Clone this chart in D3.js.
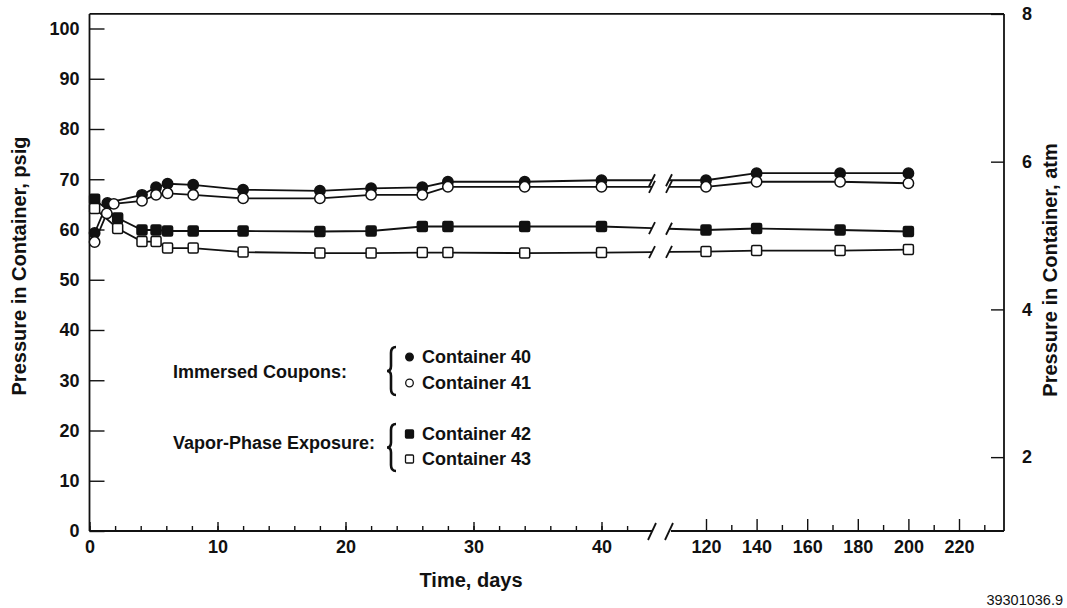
<!DOCTYPE html>
<html><head><meta charset="utf-8">
<script src="https://cdn.jsdelivr.net/npm/d3@7"></script>
<style>
html,body{margin:0;padding:0;background:#fff;}
svg{display:block;}
text{font-family:"Liberation Sans",Arial,Helvetica,sans-serif;fill:#111;}
</style></head>
<body>
<svg id="chart" width="1067" height="608"></svg>
<script>
// ---- data ----
const days40 = [0.4,1.4,4.1,5.2,6.1,8.1,12,18,22,26,28,34,40,120,140,173,200];
const c40    = [59.3,65.3,66.9,68.4,69.1,68.9,67.9,67.7,68.2,68.4,69.5,69.5,69.8,69.8,71.2,71.2,71.2];
const days41 = [0.4,1.35,1.9,4.1,5.2,6.1,8.1,12,18,22,26,28,34,40,120,140,173,200];
const c41    = [57.5,63.2,65.1,65.7,66.9,67.2,66.9,66.2,66.2,66.9,66.9,68.5,68.5,68.5,68.5,69.5,69.5,69.2];
const days42 = [0.4,2.2,4.1,5.2,6.1,8.1,12,18,22,26,28,34,40,120,140,173,200];
const c42    = [66.0,62.3,59.9,59.9,59.7,59.7,59.7,59.6,59.7,60.6,60.6,60.6,60.6,59.9,60.2,59.9,59.6];
const days43 = [0.4,2.2,4.1,5.2,6.1,8.1,12,18,22,26,28,34,40,120,140,173,200];
const c43    = [64.2,60.2,57.6,57.6,56.3,56.3,55.5,55.3,55.3,55.4,55.4,55.3,55.4,55.6,55.8,55.8,56.0];

const seriesNames = ["Container 40","Container 41","Container 42","Container 43"];
const groupLabels = ["Immersed Coupons:","Vapor-Phase Exposure:"];
const psigTicks = [0,10,20,30,40,50,60,70,80,90,100];
const atmTicks = [2,4,6,8];
const leftMajor = [0,10,20,30,40];
const leftMinor = d3.range(0,43,2);
const rightMajor = [120,140,160,180,200,220];
const rightMinor = [130,150,170,190,210,230];
const xTitle = "Time, days";
const yTitleL = "Pressure in Container, psig";
const yTitleR = "Pressure in Container, atm";
const figId = "39301036.9";

// ---- layout ----
const svg = d3.select("#chart");
const X0 = 89.5, XR = 1004;
const TICK_FS = 18, LEG_FS = 18, TITLE_FS = 20;
const xL = d3.scaleLinear().domain([0,40]).range([X0,601.5]);
const xRt = d3.scaleLinear().domain([120,220]).range([706,959]);
const x = d3.scaleLinear().domain([0,40,120,220]).range([xL(0),xL(40),xRt(120),xRt(220)]);
const y = d3.scaleLinear().domain([0,100]).range([531,28.5]);
const psigPerAtm = 14.7;
const yAtm = d3.scaleLinear().domain([1,8]).range([y(0), y(7*psigPerAtm)]);
const yTop = yAtm(8), yBot = y(0);
const BREAK_A = 652, BREAK_B = 669;

const frame = svg.append("g").attr("stroke","#111").attr("stroke-width",1.8).attr("fill","none");
frame.append("line").attr("x1",X0).attr("x2",XR).attr("y1",yTop).attr("y2",yTop);
frame.append("line").attr("x1",X0).attr("x2",X0).attr("y1",yTop).attr("y2",yBot);
frame.append("line").attr("x1",XR).attr("x2",XR).attr("y1",yTop).attr("y2",yBot);
frame.append("line").attr("x1",X0).attr("x2",BREAK_A).attr("y1",yBot).attr("y2",yBot);
frame.append("line").attr("x1",BREAK_B+2).attr("x2",XR).attr("y1",yBot).attr("y2",yBot);
[BREAK_A, BREAK_B].forEach(bx=>{
  frame.append("line").attr("x1",bx-4).attr("y1",yBot+9).attr("x2",bx+4).attr("y2",yBot-8);
});

function styleAxis(g){
  g.select(".domain").remove();
  g.selectAll(".tick line").attr("stroke","#111").attr("stroke-width",1.4);
  g.selectAll("text").attr("font-size",TICK_FS).attr("font-weight","bold").attr("fill","#111")
   .attr("font-family",'"Liberation Sans",Arial,sans-serif');
}

svg.append("g").attr("transform",`translate(0,${yBot})`)
  .call(d3.axisBottom(xL).tickValues(leftMinor).tickSize(-5).tickFormat(""))
  .call(styleAxis);
svg.append("g").attr("transform",`translate(0,${yBot})`)
  .call(d3.axisBottom(xL).tickValues(leftMajor).tickSize(-9).tickPadding(9).tickFormat(d3.format("d")))
  .call(styleAxis);
svg.append("g").attr("transform",`translate(0,${yBot})`)
  .call(d3.axisBottom(xRt).tickValues(rightMinor).tickSize(-6).tickFormat(""))
  .call(styleAxis);
svg.append("g").attr("transform",`translate(0,${yBot})`)
  .call(d3.axisBottom(xRt).tickValues(rightMajor).tickSize(-12).tickPadding(9).tickFormat(d3.format("d")))
  .call(styleAxis);

svg.append("g").attr("transform",`translate(${X0},0)`)
  .call(d3.axisLeft(y).tickValues(psigTicks).tickSize(-15).tickPadding(10).tickFormat(d3.format("d")))
  .call(styleAxis);
svg.append("g").attr("transform",`translate(${XR},0)`)
  .call(d3.axisRight(yAtm).tickValues(atmTicks).tickSize(-13).tickPadding(18).tickFormat(d3.format("d")))
  .call(styleAxis);

// titles
svg.append("text").attr("x",471).attr("y",587).attr("text-anchor","middle")
  .attr("font-size",TITLE_FS).attr("font-weight","bold").text(xTitle);
svg.append("text").attr("transform",`translate(26,266) rotate(-90)`).attr("text-anchor","middle")
  .attr("font-size",TITLE_FS).attr("font-weight","bold").text(yTitleL);
svg.append("text").attr("transform",`translate(1057,270) rotate(-90)`).attr("text-anchor","middle")
  .attr("font-size",TITLE_FS).attr("font-weight","bold").text(yTitleR);
svg.append("text").attr("x",1063).attr("y",605).attr("text-anchor","end")
  .attr("font-size",14.5).text(figId);

// ---- series ----
const series = [
  {d:days40, v:c40, shape:"circle", fill:"#111"},
  {d:days41, v:c41, shape:"circle", fill:"#fff"},
  {d:days42, v:c42, shape:"square", fill:"#111"},
  {d:days43, v:c43, shape:"square", fill:"#fff"}
];
const line = d3.line().x(p=>x(p[0])).y(p=>y(p[1]));
const lines = svg.append("g").attr("fill","none").attr("stroke","#111").attr("stroke-width",1.8);
series.forEach(s=>{
  const pts = s.d.map((d,i)=>[d,s.v[i]]);
  const left = pts.filter(p=>p[0]<=40), right = pts.filter(p=>p[0]>=120);
  const a = left[left.length-1], b = right[0];
  const interp = d3.scaleLinear().domain([x(a[0]), x(b[0])]).range([y(a[1]), y(b[1])]);
  lines.append("path").attr("d", line(left) + `L${BREAK_A},${interp(BREAK_A)}`);
  lines.append("path").attr("d", `M${BREAK_B},${interp(BREAK_B)}` + line(right).replace(/^M/,"L"));
  [BREAK_A, BREAK_B].forEach(bx=>{
    const by = interp(bx);
    lines.append("line").attr("x1",bx-3).attr("y1",by+6).attr("x2",bx+3).attr("y2",by-6);
  });
});
const marks = svg.append("g").attr("stroke","#111").attr("stroke-width",1.5);
series.forEach(s=>{
  s.d.forEach((d,i)=>{
    if(s.shape==="circle"){
      marks.append("circle").attr("cx",x(d)).attr("cy",y(s.v[i])).attr("r",5.2).attr("fill",s.fill);
    } else {
      marks.append("rect").attr("x",x(d)-5).attr("y",y(s.v[i])-5).attr("width",10).attr("height",10)
        .attr("rx",1.5).attr("fill",s.fill);
    }
  });
});

// ---- legend ----
const lg = svg.append("g");
const groups = [
  {label:groupLabels[0], ly:372, items:[{n:seriesNames[0],shape:"circle",fill:"#111",y:357},{n:seriesNames[1],shape:"circle",fill:"#fff",y:383}]},
  {label:groupLabels[1], ly:443, items:[{n:seriesNames[2],shape:"square",fill:"#111",y:434},{n:seriesNames[3],shape:"square",fill:"#fff",y:459}]}
];
groups.forEach(g=>{
  lg.append("text").attr("x",173).attr("y",g.ly).attr("dy","0.36em").attr("font-size",LEG_FS).attr("font-weight","bold").text(g.label);
  const y0 = g.items[0].y-10, y1 = g.items[1].y+12, ym = (y0+y1)/2, bx = 388;
  lg.append("path").attr("fill","none").attr("stroke","#111").attr("stroke-width",2.6)
    .attr("d",`M${bx+8},${y0} Q${bx+3},${y0} ${bx+3},${y0+6} L${bx+3},${ym-5} Q${bx+3},${ym} ${bx-1},${ym} Q${bx+3},${ym} ${bx+3},${ym+5} L${bx+3},${y1-6} Q${bx+3},${y1} ${bx+8},${y1}`);
  g.items.forEach(it=>{
    if(it.shape==="circle") lg.append("circle").attr("cx",409.5).attr("cy",it.y).attr("r",3.8)
      .attr("fill",it.fill).attr("stroke","#111").attr("stroke-width",1.3);
    else lg.append("rect").attr("x",405.5).attr("y",it.y-4).attr("width",8).attr("height",8).attr("rx",1)
      .attr("fill",it.fill).attr("stroke","#111").attr("stroke-width",1.3);
    lg.append("text").attr("x",422).attr("y",it.y).attr("dy","0.36em").attr("font-size",LEG_FS).attr("font-weight","bold").text(it.n);
  });
});
</script>
</body></html>
